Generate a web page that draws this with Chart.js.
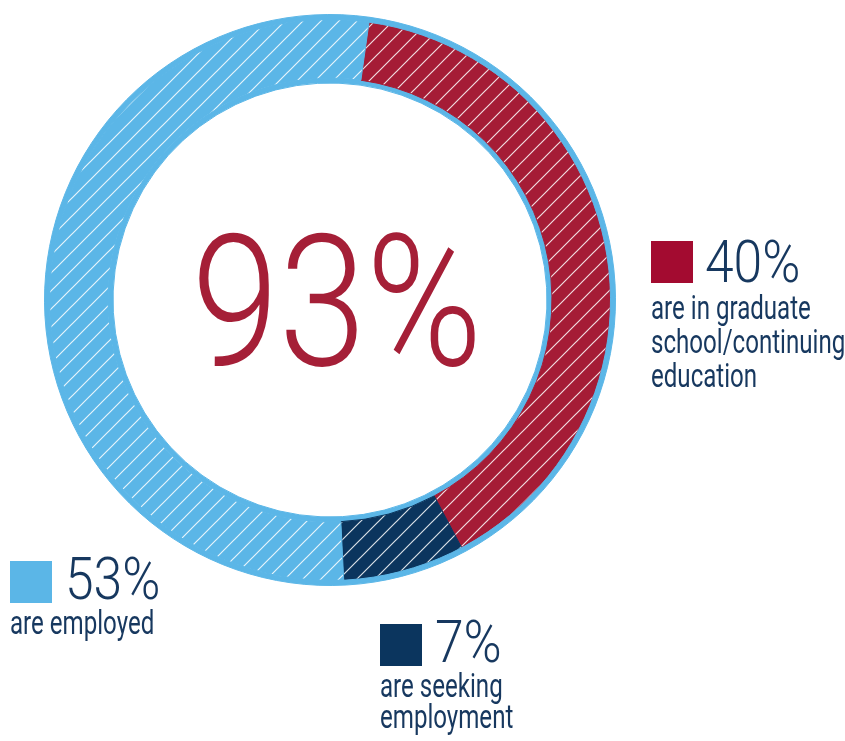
<!DOCTYPE html>
<html>
<head>
<meta charset="utf-8">
<script src="https://cdn.jsdelivr.net/npm/chart.js@4.4.0/dist/chart.umd.min.js"></script>
<style>
  body { margin: 0; background: #fff; }
  #wrap { position: relative; width: 845px; height: 741px; overflow: hidden; }
  #ring { position: absolute; left: 0; top: 0; }
  .txt { position: absolute; font-family: Roboto, sans-serif; color: #17385f; white-space: nowrap; transform-origin: 0 0; }
  .big { font-weight: 300; line-height: 1; }
  .small { font-weight: 400; }
  .sw { position: absolute; }
  #center { position: absolute; font-family: Roboto, sans-serif; font-weight: 300; line-height: 1; color: #a51f37; text-align: center; transform-origin: 50% 0; }
</style>
</head>
<body>
<div id="wrap">
  <canvas id="ring" width="845" height="741"></canvas>
</div>
<script>
// slices, clockwise from the top
var categories = ['graduate', 'seeking', 'employed'];
var values = [40, 7, 53];
var sliceColors = ['#a51c36', '#0b355e', '#5bb6e7'];
var percentLabels = ['40%', '7%', '53%'];
var labelLines = [
    ['are in graduate', 'school/continuing', 'education'],
    ['are seeking', 'employment'],
    ['are employed']
];
var centerLabel = '93%';

var ringBlue = '#5bb6e7';

function makeHatch(color) {
    var c = document.createElement('canvas');
    c.width = 18;
    c.height = 18;
    var g = c.getContext('2d');
    g.fillStyle = color;
    g.fillRect(0, 0, 18, 18);
    g.strokeStyle = 'rgba(255,255,255,0.85)';
    g.lineWidth = 1.2;
    g.beginPath();
    g.moveTo(-2, 20); g.lineTo(20, -2);
    g.moveTo(-2, 2); g.lineTo(2, -2);
    g.moveTo(16, 20); g.lineTo(20, 16);
    g.stroke();
    return g.createPattern(c, 'repeat');
}

window.onload = function() {
    var ctx = document.getElementById('ring').getContext('2d');
    var patterns = sliceColors.map(makeHatch);

    new Chart(ctx, {
        type: 'doughnut',
        data: {
            labels: categories,
            datasets: [
                {
                    data: [100],
                    backgroundColor: ringBlue,
                    borderColor: ringBlue,
                    borderWidth: 1,
                    weight: 5
                },
                {
                    data: values,
                    backgroundColor: patterns,
                    borderColor: sliceColors,
                    borderWidth: 1,
                    weight: 59
                },
                {
                    data: [100],
                    backgroundColor: ringBlue,
                    borderColor: ringBlue,
                    borderWidth: 1,
                    weight: 5
                }
            ]
        },
        options: {
            responsive: false,
            animation: false,
            events: [],
            rotation: 8,
            cutout: 217,
            layout: {
                padding: { left: 44, top: 14, right: 229, bottom: 155 }
            },
            plugins: {
                legend: { display: false },
                tooltip: { enabled: false }
            }
        }
    });

    var wrap = document.getElementById('wrap');

    var center = document.createElement('div');
    center.id = 'center';
    center.textContent = centerLabel;
    center.style.fontSize = '183px';
    center.style.left = '137px';
    center.style.width = '400px';
    center.style.top = '211px';
    center.style.transform = 'scaleX(0.86)';
    wrap.appendChild(center);

    // legend blocks: swatch, big percent, lines of text
    var blocks = [
        { sw: [651, 241], pct: [705, 232], lines: [651, 291], lh: 34 },
        { sw: [380, 624], pct: [435, 612], lines: [380, 670], lh: 31 },
        { sw: [10, 561], pct: [65, 549], lines: [10, 606], lh: 34 }
    ];
    blocks.forEach(function(b, i) {
        var sw = document.createElement('div');
        sw.className = 'sw';
        sw.style.left = b.sw[0] + 'px';
        sw.style.top = b.sw[1] + 'px';
        sw.style.width = '42px';
        sw.style.height = '42px';
        sw.style.background = i === 0 ? '#a30b30' : sliceColors[i];
        wrap.appendChild(sw);

        var pct = document.createElement('div');
        pct.className = 'txt big';
        pct.textContent = percentLabels[i];
        pct.style.fontSize = '60px';
        pct.style.left = b.pct[0] + 'px';
        pct.style.top = b.pct[1] + 'px';
        pct.style.transform = 'scaleX(0.86)';
        wrap.appendChild(pct);

        var txt = document.createElement('div');
        txt.className = 'txt small';
        txt.innerHTML = labelLines[i].join('<br>');
        txt.style.fontSize = '33px';
        txt.style.lineHeight = b.lh + 'px';
        txt.style.left = b.lines[0] + 'px';
        txt.style.top = b.lines[1] + 'px';
        txt.style.transform = 'scaleX(0.73)';
        wrap.appendChild(txt);
    });
};
</script>
</body>
</html>
